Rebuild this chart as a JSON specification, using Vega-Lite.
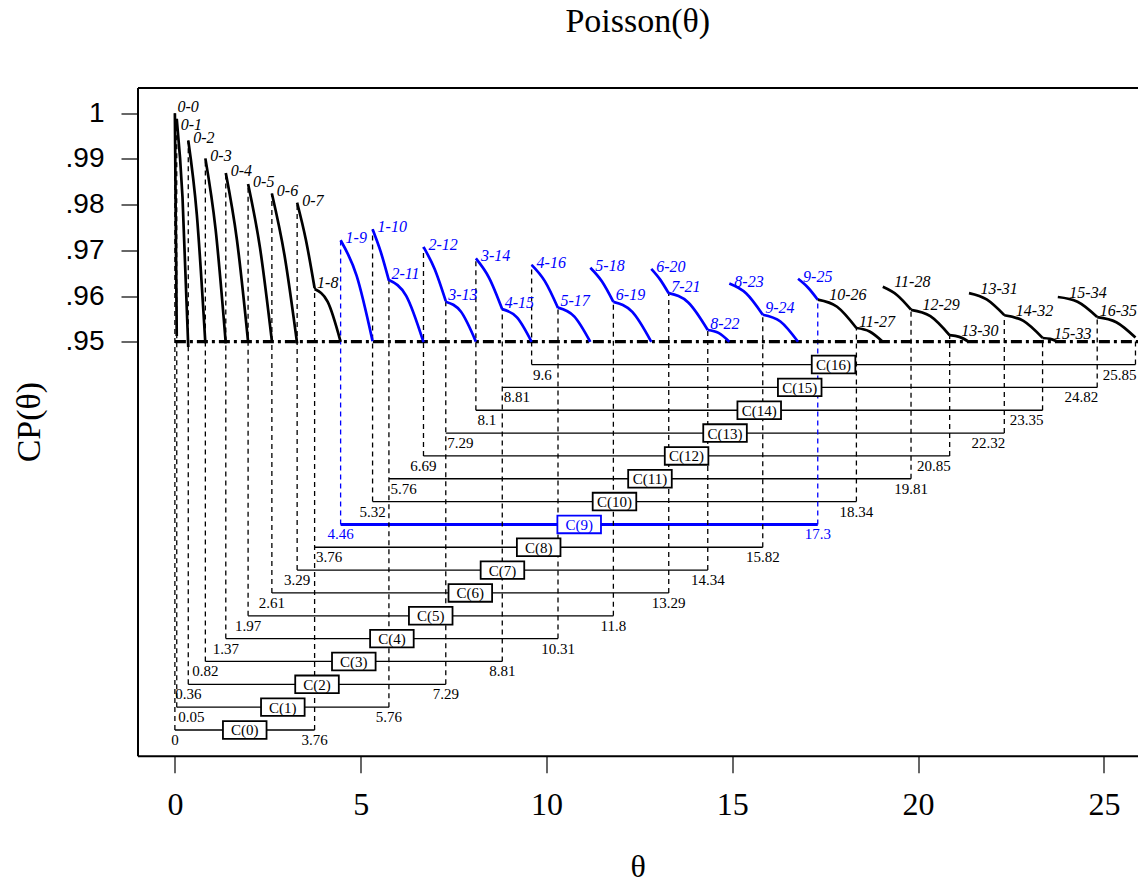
{
  "$schema": "https://vega.github.io/schema/vega-lite/v6.json",
  "width": 1000.5,
  "height": 668.2,
  "autosize": {"type": "none"},
  "padding": {"left": 137.5, "top": 87.5, "right": 0, "bottom": 126.3},
  "background": "white",
  "config": {"view": {"stroke": null}, "axis": {"grid": false}},
  "title": {
    "text": "Poisson(θ)",
    "font": "Liberation Serif",
    "fontSize": 34,
    "fontWeight": "normal",
    "color": "black",
    "anchor": "middle",
    "frame": "group",
    "baseline": "alphabetic",
    "offset": 22
  },
  "resolve": {"axis": {"x": "independent", "y": "independent"}},
  "datasets": {
    "intervals": [
      {"k": 0, "name": "C(0)", "lo": 0, "hi": 3.76, "level": 0.865},
      {"k": 1, "name": "C(1)", "lo": 0.05, "hi": 5.76, "level": 0.87},
      {"k": 2, "name": "C(2)", "lo": 0.36, "hi": 7.29, "level": 0.875},
      {"k": 3, "name": "C(3)", "lo": 0.82, "hi": 8.81, "level": 0.88},
      {"k": 4, "name": "C(4)", "lo": 1.37, "hi": 10.31, "level": 0.885},
      {"k": 5, "name": "C(5)", "lo": 1.97, "hi": 11.8, "level": 0.89},
      {"k": 6, "name": "C(6)", "lo": 2.61, "hi": 13.29, "level": 0.895},
      {"k": 7, "name": "C(7)", "lo": 3.29, "hi": 14.34, "level": 0.9},
      {"k": 8, "name": "C(8)", "lo": 3.76, "hi": 15.82, "level": 0.905},
      {"k": 9, "name": "C(9)", "lo": 4.46, "hi": 17.3, "level": 0.91},
      {"k": 10, "name": "C(10)", "lo": 5.32, "hi": 18.34, "level": 0.915},
      {"k": 11, "name": "C(11)", "lo": 5.76, "hi": 19.81, "level": 0.92},
      {"k": 12, "name": "C(12)", "lo": 6.69, "hi": 20.85, "level": 0.925},
      {"k": 13, "name": "C(13)", "lo": 7.29, "hi": 22.32, "level": 0.93},
      {"k": 14, "name": "C(14)", "lo": 8.1, "hi": 23.35, "level": 0.935},
      {"k": 15, "name": "C(15)", "lo": 8.81, "hi": 24.82, "level": 0.94},
      {"k": 16, "name": "C(16)", "lo": 9.6, "hi": 25.85, "level": 0.945}
    ],
    "edges": [
      {"theta": 0, "base": 0.865, "top": 1.0, "k": 0},
      {"theta": 0.05, "base": 0.87, "top": 0.99879, "k": 1},
      {"theta": 0.36, "base": 0.875, "top": 0.99405, "k": 2},
      {"theta": 0.82, "base": 0.88, "top": 0.99013, "k": 3},
      {"theta": 1.37, "base": 0.885, "top": 0.98691, "k": 4},
      {"theta": 1.97, "base": 0.89, "top": 0.98452, "k": 5},
      {"theta": 2.61, "base": 0.895, "top": 0.98245, "k": 6},
      {"theta": 3.29, "base": 0.9, "top": 0.98043, "k": 7},
      {"theta": 3.76, "base": 0.865, "top": 0.96173, "k": 0},
      {"theta": 4.46, "base": 0.91, "top": 0.97222, "k": 9},
      {"theta": 5.32, "base": 0.915, "top": 0.97461, "k": 10},
      {"theta": 5.76, "base": 0.87, "top": 0.9635, "k": 1},
      {"theta": 6.69, "base": 0.925, "top": 0.97075, "k": 12},
      {"theta": 7.29, "base": 0.875, "top": 0.95889, "k": 2},
      {"theta": 8.1, "base": 0.935, "top": 0.96824, "k": 14},
      {"theta": 8.81, "base": 0.88, "top": 0.95714, "k": 3},
      {"theta": 9.6, "base": 0.945, "top": 0.96682, "k": 16},
      {"theta": 10.31, "base": 0.885, "top": 0.95745, "k": 4},
      {"theta": 11.8, "base": 0.89, "top": 0.95872, "k": 5},
      {"theta": 13.29, "base": 0.895, "top": 0.96063, "k": 6},
      {"theta": 14.34, "base": 0.9, "top": 0.95256, "k": 7},
      {"theta": 15.82, "base": 0.905, "top": 0.95591, "k": 8},
      {"theta": 17.3, "base": 0.91, "top": 0.95922, "k": 9},
      {"theta": 18.34, "base": 0.915, "top": 0.953, "k": 10},
      {"theta": 19.81, "base": 0.92, "top": 0.95701, "k": 11},
      {"theta": 20.85, "base": 0.925, "top": 0.95142, "k": 12},
      {"theta": 22.32, "base": 0.93, "top": 0.95581, "k": 13},
      {"theta": 23.35, "base": 0.935, "top": 0.95083, "k": 14},
      {"theta": 24.82, "base": 0.94, "top": 0.95542, "k": 15},
      {"theta": 25.85, "base": 0.945, "top": 0.95091, "k": 16}
    ],
    "curves": [
      {"seg": "0-0", "from": 0, "to": 0, "theta": 0, "cp": 1.0},
      {"seg": "0-0", "from": 0, "to": 0, "theta": 0.025, "cp": 0.97531},
      {"seg": "0-0", "from": 0, "to": 0, "theta": 0.05, "cp": 0.95123},
      {"seg": "0-1", "from": 0, "to": 1, "theta": 0.05, "cp": 0.99879},
      {"seg": "0-1", "from": 0, "to": 1, "theta": 0.205, "cp": 0.98165},
      {"seg": "0-1", "from": 0, "to": 1, "theta": 0.36, "cp": 0.94884},
      {"seg": "0-2", "from": 0, "to": 2, "theta": 0.36, "cp": 0.99405},
      {"seg": "0-2", "from": 0, "to": 2, "theta": 0.59, "cp": 0.97787},
      {"seg": "0-2", "from": 0, "to": 2, "theta": 0.82, "cp": 0.94966},
      {"seg": "0-3", "from": 0, "to": 3, "theta": 0.82, "cp": 0.99013},
      {"seg": "0-3", "from": 0, "to": 3, "theta": 1.095, "cp": 0.97463},
      {"seg": "0-3", "from": 0, "to": 3, "theta": 1.37, "cp": 0.94962},
      {"seg": "0-4", "from": 0, "to": 4, "theta": 1.37, "cp": 0.98691},
      {"seg": "0-4", "from": 0, "to": 4, "theta": 1.67, "cp": 0.97227},
      {"seg": "0-4", "from": 0, "to": 4, "theta": 1.97, "cp": 0.95004},
      {"seg": "0-5", "from": 0, "to": 5, "theta": 1.97, "cp": 0.98452},
      {"seg": "0-5", "from": 0, "to": 5, "theta": 2.29, "cp": 0.97059},
      {"seg": "0-5", "from": 0, "to": 5, "theta": 2.61, "cp": 0.95018},
      {"seg": "0-6", "from": 0, "to": 6, "theta": 2.61, "cp": 0.98245},
      {"seg": "0-6", "from": 0, "to": 6, "theta": 2.95, "cp": 0.96894},
      {"seg": "0-6", "from": 0, "to": 6, "theta": 3.29, "cp": 0.9496},
      {"seg": "0-7", "from": 0, "to": 7, "theta": 3.29, "cp": 0.98043},
      {"seg": "0-7", "from": 0, "to": 7, "theta": 3.525, "cp": 0.97233},
      {"seg": "0-7", "from": 0, "to": 7, "theta": 3.76, "cp": 0.96173},
      {"seg": "1-8", "from": 1, "to": 8, "theta": 3.76, "cp": 0.96152},
      {"seg": "1-8", "from": 1, "to": 8, "theta": 4.11, "cp": 0.95878},
      {"seg": "1-8", "from": 1, "to": 8, "theta": 4.46, "cp": 0.94998},
      {"seg": "1-9", "from": 1, "to": 9, "theta": 4.46, "cp": 0.97222},
      {"seg": "1-9", "from": 1, "to": 9, "theta": 4.89, "cp": 0.96447},
      {"seg": "1-9", "from": 1, "to": 9, "theta": 5.32, "cp": 0.95013},
      {"seg": "1-10", "from": 1, "to": 10, "theta": 5.32, "cp": 0.97461},
      {"seg": "1-10", "from": 1, "to": 10, "theta": 5.54, "cp": 0.96966},
      {"seg": "1-10", "from": 1, "to": 10, "theta": 5.76, "cp": 0.96337},
      {"seg": "2-11", "from": 2, "to": 11, "theta": 5.76, "cp": 0.9635},
      {"seg": "2-11", "from": 2, "to": 11, "theta": 6.225, "cp": 0.96004},
      {"seg": "2-11", "from": 2, "to": 11, "theta": 6.69, "cp": 0.94989},
      {"seg": "2-12", "from": 2, "to": 12, "theta": 6.69, "cp": 0.97075},
      {"seg": "2-12", "from": 2, "to": 12, "theta": 6.99, "cp": 0.96592},
      {"seg": "2-12", "from": 2, "to": 12, "theta": 7.29, "cp": 0.95889},
      {"seg": "3-13", "from": 3, "to": 13, "theta": 7.29, "cp": 0.95876},
      {"seg": "3-13", "from": 3, "to": 13, "theta": 7.695, "cp": 0.95661},
      {"seg": "3-13", "from": 3, "to": 13, "theta": 8.1, "cp": 0.95002},
      {"seg": "3-14", "from": 3, "to": 14, "theta": 8.1, "cp": 0.96824},
      {"seg": "3-14", "from": 3, "to": 14, "theta": 8.455, "cp": 0.964},
      {"seg": "3-14", "from": 3, "to": 14, "theta": 8.81, "cp": 0.95709},
      {"seg": "4-15", "from": 4, "to": 15, "theta": 8.81, "cp": 0.95714},
      {"seg": "4-15", "from": 4, "to": 15, "theta": 9.205, "cp": 0.95534},
      {"seg": "4-15", "from": 4, "to": 15, "theta": 9.6, "cp": 0.94998},
      {"seg": "4-16", "from": 4, "to": 16, "theta": 9.6, "cp": 0.96682},
      {"seg": "4-16", "from": 4, "to": 16, "theta": 9.955, "cp": 0.96326},
      {"seg": "4-16", "from": 4, "to": 16, "theta": 10.31, "cp": 0.95739},
      {"seg": "5-17", "from": 5, "to": 17, "theta": 10.31, "cp": 0.95745},
      {"seg": "5-17", "from": 5, "to": 17, "theta": 10.745, "cp": 0.95555},
      {"seg": "5-17", "from": 5, "to": 17, "theta": 11.18, "cp": 0.94995},
      {"seg": "5-18", "from": 5, "to": 18, "theta": 11.18, "cp": 0.96618},
      {"seg": "5-18", "from": 5, "to": 18, "theta": 11.49, "cp": 0.96321},
      {"seg": "5-18", "from": 5, "to": 18, "theta": 11.8, "cp": 0.95871},
      {"seg": "6-19", "from": 6, "to": 19, "theta": 11.8, "cp": 0.95872},
      {"seg": "6-19", "from": 6, "to": 19, "theta": 12.31, "cp": 0.95652},
      {"seg": "6-19", "from": 6, "to": 19, "theta": 12.82, "cp": 0.94996},
      {"seg": "6-20", "from": 6, "to": 20, "theta": 12.82, "cp": 0.96595},
      {"seg": "6-20", "from": 6, "to": 20, "theta": 13.055, "cp": 0.96365},
      {"seg": "6-20", "from": 6, "to": 20, "theta": 13.29, "cp": 0.96058},
      {"seg": "7-21", "from": 7, "to": 21, "theta": 13.29, "cp": 0.96063},
      {"seg": "7-21", "from": 7, "to": 21, "theta": 13.815, "cp": 0.9586},
      {"seg": "7-21", "from": 7, "to": 21, "theta": 14.34, "cp": 0.95256},
      {"seg": "8-22", "from": 8, "to": 22, "theta": 14.34, "cp": 0.95256},
      {"seg": "8-22", "from": 8, "to": 22, "theta": 14.63, "cp": 0.95192},
      {"seg": "8-22", "from": 8, "to": 22, "theta": 14.92, "cp": 0.95001},
      {"seg": "8-23", "from": 8, "to": 23, "theta": 14.92, "cp": 0.96273},
      {"seg": "8-23", "from": 8, "to": 23, "theta": 15.37, "cp": 0.9606},
      {"seg": "8-23", "from": 8, "to": 23, "theta": 15.82, "cp": 0.95591},
      {"seg": "9-24", "from": 9, "to": 24, "theta": 15.82, "cp": 0.95591},
      {"seg": "9-24", "from": 9, "to": 24, "theta": 16.295, "cp": 0.95443},
      {"seg": "9-24", "from": 9, "to": 24, "theta": 16.77, "cp": 0.94998},
      {"seg": "9-25", "from": 9, "to": 25, "theta": 16.77, "cp": 0.96377},
      {"seg": "9-25", "from": 9, "to": 25, "theta": 17.035, "cp": 0.96187},
      {"seg": "9-25", "from": 9, "to": 25, "theta": 17.3, "cp": 0.95919},
      {"seg": "10-26", "from": 10, "to": 26, "theta": 17.3, "cp": 0.95922},
      {"seg": "10-26", "from": 10, "to": 26, "theta": 17.82, "cp": 0.95765},
      {"seg": "10-26", "from": 10, "to": 26, "theta": 18.34, "cp": 0.95299},
      {"seg": "11-27", "from": 11, "to": 27, "theta": 18.34, "cp": 0.953},
      {"seg": "11-27", "from": 11, "to": 27, "theta": 18.695, "cp": 0.95225},
      {"seg": "11-27", "from": 11, "to": 27, "theta": 19.05, "cp": 0.95},
      {"seg": "11-28", "from": 11, "to": 28, "theta": 19.05, "cp": 0.96202},
      {"seg": "11-28", "from": 11, "to": 28, "theta": 19.43, "cp": 0.96024},
      {"seg": "11-28", "from": 11, "to": 28, "theta": 19.81, "cp": 0.95701},
      {"seg": "12-29", "from": 12, "to": 29, "theta": 19.81, "cp": 0.95698},
      {"seg": "12-29", "from": 12, "to": 29, "theta": 20.33, "cp": 0.95559},
      {"seg": "12-29", "from": 12, "to": 29, "theta": 20.85, "cp": 0.9514},
      {"seg": "13-30", "from": 13, "to": 30, "theta": 20.85, "cp": 0.95142},
      {"seg": "13-30", "from": 13, "to": 30, "theta": 21.11, "cp": 0.95106},
      {"seg": "13-30", "from": 13, "to": 30, "theta": 21.37, "cp": 0.94997},
      {"seg": "13-31", "from": 13, "to": 31, "theta": 21.37, "cp": 0.96064},
      {"seg": "13-31", "from": 13, "to": 31, "theta": 21.845, "cp": 0.95925},
      {"seg": "13-31", "from": 13, "to": 31, "theta": 22.32, "cp": 0.95581},
      {"seg": "14-32", "from": 14, "to": 32, "theta": 22.32, "cp": 0.95579},
      {"seg": "14-32", "from": 14, "to": 32, "theta": 22.835, "cp": 0.95455},
      {"seg": "14-32", "from": 14, "to": 32, "theta": 23.35, "cp": 0.95083},
      {"seg": "15-33", "from": 15, "to": 33, "theta": 23.35, "cp": 0.95081},
      {"seg": "15-33", "from": 15, "to": 33, "theta": 23.555, "cp": 0.95061},
      {"seg": "15-33", "from": 15, "to": 33, "theta": 23.76, "cp": 0.95001},
      {"seg": "15-34", "from": 15, "to": 34, "theta": 23.76, "cp": 0.95978},
      {"seg": "15-34", "from": 15, "to": 34, "theta": 24.29, "cp": 0.95876},
      {"seg": "15-34", "from": 15, "to": 34, "theta": 24.82, "cp": 0.95542},
      {"seg": "16-35", "from": 16, "to": 35, "theta": 24.82, "cp": 0.95538},
      {"seg": "16-35", "from": 16, "to": 35, "theta": 25.335, "cp": 0.95427},
      {"seg": "16-35", "from": 16, "to": 35, "theta": 25.85, "cp": 0.95091}
    ]
  },
  "layer": [
    {
      "data": {"name": "intervals"},
      "mark": {"type": "rule"},
      "encoding": {
        "x": {
          "field": "lo", "type": "quantitative",
          "scale": {"domain": [-1.006, 25.918], "nice": false, "zero": false},
          "axis": {
            "orient": "bottom", "values": [0, 5, 10, 15, 20, 25], "title": "θ",
            "grid": false, "domain": true, "domainColor": "black", "domainWidth": 2,
            "ticks": true, "tickColor": "black", "tickWidth": 1.2, "tickSize": 17,
            "labelFont": "Liberation Serif", "labelFontSize": 32, "labelColor": "black",
            "labelPadding": 17, "labelFlush": false, "labelOverlap": false,
            "titleFont": "Liberation Serif", "titleFontSize": 32, "titleFontWeight": "normal",
            "titleColor": "black", "titlePadding": 31
          }
        },
        "x2": {"field": "hi"},
        "y": {
          "field": "level", "type": "quantitative",
          "scale": {"domain": [0.85937, 1.00565], "nice": false, "zero": false},
          "axis": {
            "orient": "left",
            "values": [0.95, 0.96, 0.97, 0.98, 0.99, 1],
            "labelExpr": "datum.value >= 0.9995 ? '1' : '.' + format(datum.value * 100, '.0f')",
            "title": "CP(θ)", "grid": false, "domain": true, "domainColor": "black", "domainWidth": 2,
            "ticks": true, "tickColor": "black", "tickWidth": 1.2, "tickSize": 16.5,
            "labelFont": "Liberation Sans", "labelFontSize": 28, "labelColor": "black",
            "labelPadding": 17, "labelFlush": false, "labelOverlap": false,
            "titleFont": "Liberation Serif", "titleFontSize": 34, "titleFontWeight": "normal",
            "titleColor": "black", "titlePadding": 19
          }
        },
        "color": {"condition": {"test": "datum.k == 9", "value": "#0000ff"}, "value": "black"},
        "strokeWidth": {"condition": {"test": "datum.k == 9", "value": 3}, "value": 1.3}
      }
    },
    {
      "data": {"name": "edges"},
      "mark": {"type": "rule", "strokeDash": [5, 4], "strokeWidth": 1.3},
      "encoding": {
        "x": {
          "field": "theta", "type": "quantitative",
          "axis": {"orient": "top", "labels": false, "ticks": false, "title": null, "grid": false,
                   "domain": true, "domainColor": "black", "domainWidth": 2}
        },
        "y": {"field": "base", "type": "quantitative", "axis": null},
        "y2": {"field": "top"},
        "color": {"condition": {"test": "datum.k == 9", "value": "#0000ff"}, "value": "black"}
      }
    },
    {
      "data": {"values": [{}]},
      "mark": {"type": "rule", "strokeDash": [11, 4, 3, 4], "strokeWidth": 3.2, "color": "black"},
      "encoding": {
        "x": {"datum": 0, "type": "quantitative", "axis": null},
        "x2": {"datum": 25.918},
        "y": {"datum": 0.95, "type": "quantitative", "axis": null}
      }
    },
    {
      "data": {"name": "curves"},
      "mark": {"type": "line", "interpolate": "monotone", "strokeWidth": 2.7},
      "encoding": {
        "x": {"field": "theta", "type": "quantitative", "axis": null},
        "y": {"field": "cp", "type": "quantitative", "axis": null},
        "detail": {"field": "seg"},
        "order": {"field": "theta"},
        "color": {"condition": {"test": "datum.from <= 9 && datum.to >= 9", "value": "#0000ff"}, "value": "black"}
      }
    },
    {
      "data": {"name": "curves"},
      "transform": [
        {"aggregate": [{"op": "argmin", "field": "theta", "as": "start"}], "groupby": ["seg", "from", "to"]},
        {"filter": "indexof(['0-0','1-8','2-11','3-13','4-15','5-17','6-19','7-21','8-22','9-24','11-27','16-35'], datum.seg) >= 0"}
      ],
      "mark": {"type": "text", "align": "left", "baseline": "middle", "dx": 2.5, "dy": -6.5,
               "font": "Liberation Serif", "fontStyle": "italic", "fontSize": 16},
      "encoding": {
        "x": {"field": "start.theta", "type": "quantitative", "axis": null},
        "y": {"field": "start.cp", "type": "quantitative", "axis": null},
        "text": {"field": "seg"},
        "color": {"condition": {"test": "datum.from <= 9 && datum.to >= 9", "value": "#0000ff"}, "value": "black"}
      }
    },
    {
      "data": {"name": "curves"},
      "transform": [
        {"aggregate": [{"op": "argmin", "field": "theta", "as": "start"}], "groupby": ["seg", "from", "to"]},
        {"filter": "indexof(['10-26','11-28','12-29','13-30','13-31','14-32','15-33','15-34'], datum.seg) >= 0"}
      ],
      "mark": {"type": "text", "align": "left", "baseline": "middle", "dx": 11.5, "dy": -4.5,
               "font": "Liberation Serif", "fontStyle": "italic", "fontSize": 16, "color": "black"},
      "encoding": {
        "x": {"field": "start.theta", "type": "quantitative", "axis": null},
        "y": {"field": "start.cp", "type": "quantitative", "axis": null},
        "text": {"field": "seg"}
      }
    },
    {
      "data": {"name": "curves"},
      "transform": [
        {"aggregate": [{"op": "argmin", "field": "theta", "as": "start"}], "groupby": ["seg", "from", "to"]},
        {"filter": "indexof(['0-0','0-1','1-8','2-11','3-13','4-15','5-17','6-19','7-21','8-22','9-24','11-27','16-35','10-26','11-28','12-29','13-30','13-31','14-32','15-33','15-34'], datum.seg) < 0"}
      ],
      "mark": {"type": "text", "align": "left", "baseline": "middle", "dx": 5, "dy": -2,
               "font": "Liberation Serif", "fontStyle": "italic", "fontSize": 16},
      "encoding": {
        "x": {"field": "start.theta", "type": "quantitative", "axis": null},
        "y": {"field": "start.cp", "type": "quantitative", "axis": null},
        "text": {"field": "seg"},
        "color": {"condition": {"test": "datum.from <= 9 && datum.to >= 9", "value": "#0000ff"}, "value": "black"}
      }
    },
    {
      "data": {"name": "curves"},
      "transform": [
        {"aggregate": [{"op": "argmin", "field": "theta", "as": "start"}], "groupby": ["seg", "from", "to"]},
        {"filter": "datum.seg == '0-1'"}
      ],
      "mark": {"type": "text", "align": "left", "baseline": "middle", "dx": 4, "dy": 6,
               "font": "Liberation Serif", "fontStyle": "italic", "fontSize": 16, "color": "black"},
      "encoding": {
        "x": {"field": "start.theta", "type": "quantitative", "axis": null},
        "y": {"field": "start.cp", "type": "quantitative", "axis": null},
        "text": {"field": "seg"}
      }
    },
    {
      "data": {"name": "intervals"},
      "transform": [{"filter": "indexof([1, 8, 11, 13, 14, 15, 16], datum.k) < 0"}],
      "mark": {"type": "text", "align": "center", "baseline": "top", "dy": 3,
               "font": "Liberation Serif", "fontSize": 15},
      "encoding": {
        "x": {"field": "lo", "type": "quantitative", "axis": null},
        "y": {"field": "level", "type": "quantitative", "axis": null},
        "text": {"field": "lo", "type": "nominal"},
        "color": {"condition": {"test": "datum.k == 9", "value": "#0000ff"}, "value": "black"}
      }
    },
    {
      "data": {"name": "intervals"},
      "transform": [{"filter": "indexof([1, 8, 11, 13, 14, 15, 16], datum.k) >= 0"}],
      "mark": {"type": "text", "align": "left", "baseline": "top", "dx": 1.5, "dy": 3,
               "font": "Liberation Serif", "fontSize": 15, "color": "black"},
      "encoding": {
        "x": {"field": "lo", "type": "quantitative", "axis": null},
        "y": {"field": "level", "type": "quantitative", "axis": null},
        "text": {"field": "lo", "type": "nominal"}
      }
    },
    {
      "data": {"name": "intervals"},
      "transform": [{"filter": "datum.k <= 11"}],
      "mark": {"type": "text", "align": "center", "baseline": "top", "dy": 3,
               "font": "Liberation Serif", "fontSize": 15},
      "encoding": {
        "x": {"field": "hi", "type": "quantitative", "axis": null},
        "y": {"field": "level", "type": "quantitative", "axis": null},
        "text": {"field": "hi", "type": "nominal"},
        "color": {"condition": {"test": "datum.k == 9", "value": "#0000ff"}, "value": "black"}
      }
    },
    {
      "data": {"name": "intervals"},
      "transform": [{"filter": "datum.k >= 12"}],
      "mark": {"type": "text", "align": "right", "baseline": "top", "dx": 1, "dy": 3,
               "font": "Liberation Serif", "fontSize": 15, "color": "black"},
      "encoding": {
        "x": {"field": "hi", "type": "quantitative", "axis": null},
        "y": {"field": "level", "type": "quantitative", "axis": null},
        "text": {"field": "hi", "type": "nominal"}
      }
    },
    {
      "data": {"name": "intervals"},
      "transform": [
        {"fold": ["lo", "hi"], "as": ["end", "bound"]},
        {"aggregate": [{"op": "mean", "field": "bound", "as": "mid"}], "groupby": ["k", "name", "level"]}
      ],
      "mark": {"type": "point", "shape": "M -1 -0.405 L 1 -0.405 L 1 0.405 L -1 0.405 Z",
               "size": 1900, "filled": false, "fill": "white", "fillOpacity": 1, "opacity": 1, "strokeWidth": 1.8},
      "encoding": {
        "x": {"field": "mid", "type": "quantitative", "axis": null},
        "y": {"field": "level", "type": "quantitative", "axis": null},
        "stroke": {"condition": {"test": "datum.k == 9", "value": "#0000ff"}, "value": "black"}
      }
    },
    {
      "data": {"name": "intervals"},
      "transform": [
        {"fold": ["lo", "hi"], "as": ["end", "bound"]},
        {"aggregate": [{"op": "mean", "field": "bound", "as": "mid"}], "groupby": ["k", "name", "level"]}
      ],
      "mark": {"type": "text", "align": "center", "baseline": "middle", "dy": 0.5,
               "font": "Liberation Serif", "fontSize": 15},
      "encoding": {
        "x": {"field": "mid", "type": "quantitative", "axis": null},
        "y": {"field": "level", "type": "quantitative", "axis": null},
        "text": {"field": "name"},
        "color": {"condition": {"test": "datum.k == 9", "value": "#0000ff"}, "value": "black"}
      }
    }
  ]
}
